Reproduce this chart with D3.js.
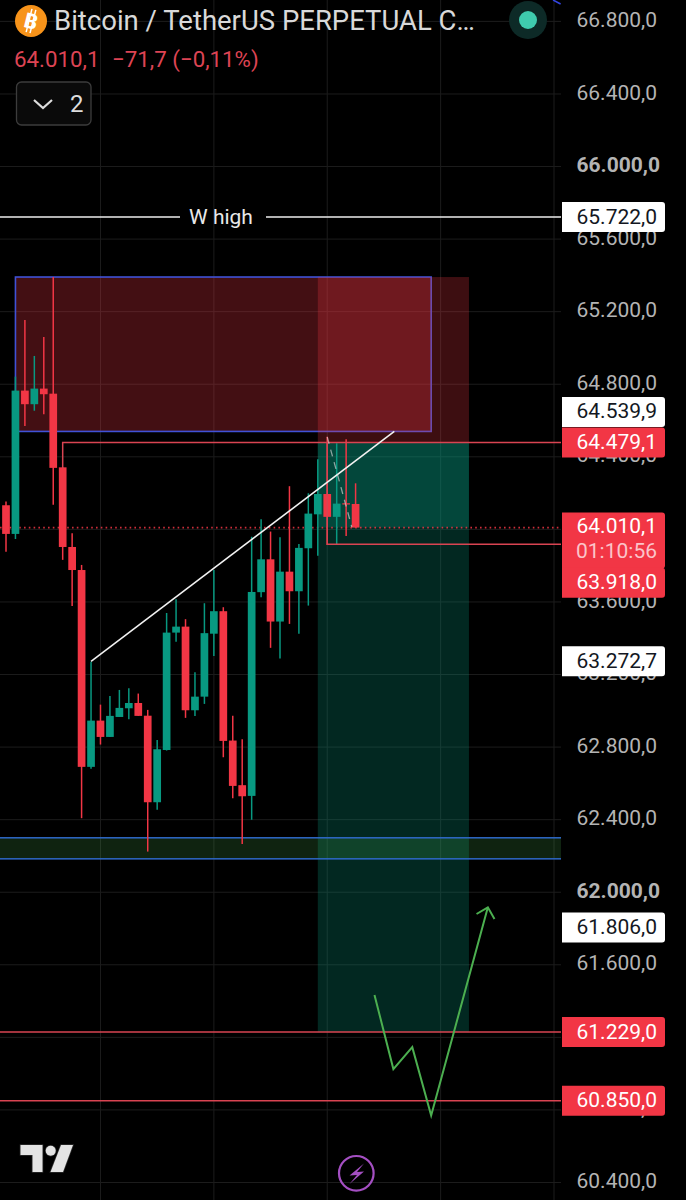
<!DOCTYPE html>
<html>
<head>
<meta charset="utf-8">
<script src="https://cdn.jsdelivr.net/npm/d3@7"></script>
<style>
  html, body { margin: 0; padding: 0; background: #000; }
  svg { display: block; font-family: Roboto, sans-serif; }
</style>
</head>
<body>
<div id="chart"></div>
<script>
// candles, one value per bar
const opens = [64133, 63975, 64765, 64690, 64776, 64748, 64342, 63903, 63776, 62691, 62946, 62856, 62966, 63014, 63043, 62973, 62496, 62784, 63431, 63464, 63003, 63078, 63425, 63549, 62836, 62590, 62531, 63654, 63835, 63492, 63767, 63659, 63896, 64083, 64195, 64069, 64144, 64140];
const highs = [64153, 64842, 65154, 64956, 65061, 65391, 64342, 63979, 63804, 63271, 63034, 63082, 63115, 63124, 63095, 63005, 62839, 63539, 63615, 63505, 63213, 63593, 63776, 63571, 62973, 62843, 63960, 64056, 63988, 63957, 64238, 63920, 64199, 64387, 64511, 64475, 64497, 64254];
const lows = [63877, 63947, 64570, 64654, 64635, 64136, 63832, 63578, 62408, 62680, 62814, 62856, 62966, 62954, 62972, 62224, 62454, 62781, 63381, 62961, 62972, 63038, 63302, 62744, 62518, 62266, 62399, 63626, 63347, 63288, 63479, 63425, 63580, 63854, 63914, 63914, 63964, 64010];
const closes = [63975, 64765, 64690, 64776, 64745, 64339, 63903, 63776, 62691, 62946, 62856, 62972, 63016, 63043, 62972, 62496, 62788, 63431, 63464, 63003, 63078, 63428, 63549, 62834, 62586, 62529, 63655, 63835, 63492, 63767, 63659, 63898, 64087, 64195, 64069, 64142, 64137, 64010.1];

const priceTicks = [66800, 66400, 66000, 65600, 65200, 64800, 64400, 64000, 63600, 63200, 62800, 62400, 62000, 61600, 61200, 60800, 60400];
const boldTicks = [66000, 62000];
const gridBars = [10, 22, 34, 46, 58];

// price tags on the axis
const whiteTags = [65722, 64539.9, 63272.7, 61806];
const redTags = [64479.1, 63918, 61229, 60850];
const lastPrice = 64010.1;

// drawings, in bar index and price
const blueBox = { bars: [1, 45], prices: [65391, 64539.9] };
const positionBars = [33, 49];
const positionPrices = { stop: 65391, entry: 64479.1, target: 61229 };
const zonePrices = [62300, 62184];
const trendLine = [[9, 63272.7], [41.1, 64539.9]];
const dashedLine = [[34, 64509], [36.6, 64013]];
const topLine = [[57.9, 66918], [58.7, 66896]];
const arrowPath = [[39, 61434], [41, 61025], [43, 61146], [45, 60769], [51, 61917]];
const arrowHead = [[49.8, 61880], [51, 61917], [51.7, 61853]];

const width = 686;
const height = 1200;
const plotRight = 561;

const x = d3.scaleLinear().domain([0, 58]).range([6, 554]);
const y = d3.scaleLinear().domain([60400, 66800]).range([1182.5, 21.4]);

const locale = d3.formatLocale({ decimal: ",", thousands: ".", grouping: [3], currency: ["", ""] });
const fmt = locale.format(",.1f");

const RED = "#f23645";
const GREEN = "#089981";

const svg = d3.select("#chart").append("svg")
  .attr("width", width)
  .attr("height", height)
  .style("background", "#000");

svg.append("clipPath").attr("id", "plot")
  .append("rect").attr("width", plotRight).attr("height", height);

// grid
svg.append("g").selectAll("line").data(priceTicks).enter().append("line")
  .attr("x1", 0).attr("x2", plotRight)
  .attr("y1", (d) => y(d)).attr("y2", (d) => y(d))
  .style("stroke", "#1c1c1c");

svg.append("g").selectAll("line").data(gridBars).enter().append("line")
  .attr("x1", (d) => x(d)).attr("x2", (d) => x(d))
  .attr("y1", 0).attr("y2", height)
  .style("stroke", "#1c1c1c");

const plot = svg.append("g").attr("clip-path", "url(#plot)");

// blue box first, the position tool tints its border
plot.append("rect")
  .attr("x", x(blueBox.bars[0]))
  .attr("y", y(blueBox.prices[0]))
  .attr("width", x(blueBox.bars[1]) - x(blueBox.bars[0]))
  .attr("height", y(blueBox.prices[1]) - y(blueBox.prices[0]))
  .style("fill", "rgba(242,54,69,0.28)")
  .style("stroke", "#4052d6")
  .style("stroke-width", 1.6);

const posX = x(positionBars[0]);
const posW = x(positionBars[1]) - x(positionBars[0]);

plot.append("rect")
  .attr("x", posX).attr("width", posW)
  .attr("y", y(positionPrices.stop))
  .attr("height", y(positionPrices.entry) - y(positionPrices.stop))
  .style("fill", "rgba(242,54,69,0.25)");

plot.append("rect")
  .attr("x", posX).attr("width", posW)
  .attr("y", y(positionPrices.entry))
  .attr("height", y(positionPrices.target) - y(positionPrices.entry))
  .style("fill", "rgba(8,153,129,0.26)");

plot.append("rect")
  .attr("x", posX).attr("width", posW)
  .attr("y", y(positionPrices.entry))
  .attr("height", y(lastPrice) - y(positionPrices.entry))
  .style("fill", "rgba(8,153,129,0.28)");

// support zone
plot.append("rect")
  .attr("x", -2).attr("width", plotRight + 4)
  .attr("y", y(zonePrices[0]))
  .attr("height", y(zonePrices[1]) - y(zonePrices[0]))
  .style("fill", "rgba(76,175,80,0.2)")
  .style("stroke", "#2f69c8")
  .style("stroke-width", 1.5);

// last price line
plot.append("line")
  .attr("x1", 0).attr("x2", plotRight)
  .attr("y1", y(lastPrice)).attr("y2", y(lastPrice))
  .style("stroke", RED)
  .style("stroke-opacity", 0.85)
  .style("stroke-width", 1.7)
  .style("stroke-dasharray", "1.6 3.2");

// candles
const bars = d3.range(opens.length);

plot.append("g").selectAll("line").data(bars).enter().append("line")
  .attr("x1", (i) => x(i)).attr("x2", (i) => x(i))
  .attr("y1", (i) => y(highs[i])).attr("y2", (i) => y(lows[i]))
  .style("stroke", (i) => (closes[i] >= opens[i] ? GREEN : RED))
  .style("stroke-width", 1.5);

plot.append("g").selectAll("rect").data(bars).enter().append("rect")
  .attr("x", (i) => x(i) - 3.85)
  .attr("width", 7.7)
  .attr("y", (i) => y(Math.max(opens[i], closes[i])))
  .attr("height", (i) => Math.max(1, Math.abs(y(opens[i]) - y(closes[i]))))
  .style("fill", (i) => (closes[i] >= opens[i] ? GREEN : RED));

const line = d3.line().x((d) => x(d[0])).y((d) => y(d[1]));

// red levels
const redLevel = "#d94452";
plot.append("path")
  .attr("d", line([[6, 64339], [6, positionPrices.entry], [60, positionPrices.entry]]))
  .style("fill", "none").style("stroke", redLevel).style("stroke-width", 1.5);
plot.append("path")
  .attr("d", line([[34, positionPrices.entry], [34, 63918], [60, 63918]]))
  .style("fill", "none").style("stroke", redLevel).style("stroke-width", 1.5);
plot.selectAll(".level").data([61229, 60850]).enter().append("line")
  .attr("class", "level")
  .attr("x1", 0).attr("x2", plotRight)
  .attr("y1", (d) => y(d)).attr("y2", (d) => y(d))
  .style("stroke", redLevel).style("stroke-width", 1.5);

// trend line and the rest of the drawings
plot.append("path").attr("d", line(trendLine))
  .style("fill", "none").style("stroke", "#f2f2f2").style("stroke-width", 1.6);
plot.append("path").attr("d", line(dashedLine))
  .style("fill", "none").style("stroke", "rgba(215,215,215,0.65)")
  .style("stroke-width", 1.3).style("stroke-dasharray", "7 6");
plot.append("path").attr("d", line(topLine))
  .style("fill", "none").style("stroke", "#3345e0").style("stroke-width", 1.5);
plot.append("path").attr("d", line(arrowPath))
  .style("fill", "none").style("stroke", "#4caf50").style("stroke-width", 2);
plot.append("path").attr("d", line(arrowHead))
  .style("fill", "none").style("stroke", "#4caf50").style("stroke-width", 2);

// W high
const wHigh = whiteTags[0];
const wLabelX = 221;
plot.append("line").attr("x1", 0).attr("x2", wLabelX - 41)
  .attr("y1", y(wHigh)).attr("y2", y(wHigh))
  .style("stroke", "#eee").style("stroke-width", 1.5);
plot.append("line").attr("x1", wLabelX + 45).attr("x2", plotRight)
  .attr("y1", y(wHigh)).attr("y2", y(wHigh))
  .style("stroke", "#eee").style("stroke-width", 1.5);
svg.append("text")
  .attr("x", wLabelX).attr("y", y(wHigh)).attr("dy", ".35em")
  .attr("text-anchor", "middle")
  .style("font-size", "21px").style("fill", "#e8e8e8")
  .text("W high");

// price axis, the labels sit a little above their grid lines
const axis = svg.append("g")
  .attr("transform", "translate(657,-2.5)")
  .call(d3.axisRight(y).tickValues(priceTicks).tickFormat(fmt).tickSize(0).tickPadding(0));
axis.select(".domain").remove();
axis.selectAll("text")
  .attr("text-anchor", "end")
  .attr("dy", ".36em")
  .attr("x", (d) => (boldTicks.includes(d) ? 3 : 0))
  .style("font-family", "Roboto, sans-serif")
  .style("font-size", "21px")
  .style("fill", "#b4b4b4")
  .style("font-weight", (d) => (boldTicks.includes(d) ? "bold" : "normal"));

// tags, flat on the left and rounded on the right
const tagPath = (top, h) =>
  `M562,${top}H662a3,3 0 0 1 3,3V${top + h - 3}a3,3 0 0 1 -3,3H562Z`;

// overlapping tags get pushed apart on the axis
const tagShift = { 64539.9: -19.5, 63918: 38.5 };

const tags = svg.append("g");

whiteTags.forEach((d) => {
  const cy = y(d) + (tagShift[d] || 0);
  tags.append("path").attr("d", tagPath(cy - 15, 30)).style("fill", "#fff");
  tags.append("text")
    .attr("x", 657).attr("y", cy - 1).attr("dy", ".36em")
    .attr("text-anchor", "end")
    .style("font-size", "21px").style("fill", "#131722")
    .text(fmt(d));
});

// last price tag with countdown
const lastY = y(lastPrice);
tags.append("path").attr("d", tagPath(lastY - 15, 56)).style("fill", RED);
tags.append("text")
  .attr("x", 657).attr("y", lastY - 2).attr("dy", ".36em")
  .attr("text-anchor", "end")
  .style("font-size", "21px").style("fill", "#fff")
  .text(fmt(lastPrice));
tags.append("text")
  .attr("x", 657).attr("y", lastY + 23).attr("dy", ".36em")
  .attr("text-anchor", "end")
  .style("font-size", "21px").style("fill", "#fbc4c9")
  .text("01:10:56");

redTags.forEach((d) => {
  const cy = y(d) + (tagShift[d] || 0);
  tags.append("path").attr("d", tagPath(cy - 15, 30)).style("fill", RED);
  tags.append("text")
    .attr("x", 657).attr("y", cy - 1).attr("dy", ".36em")
    .attr("text-anchor", "end")
    .style("font-size", "21px").style("fill", "#fff")
    .text(fmt(d));
});

// header
const header = svg.append("g");
header.append("circle").attr("cx", 31).attr("cy", 21).attr("r", 16).style("fill", "#f7931a");
header.append("g").attr("transform", "translate(31,21) rotate(14)")
  .call((g) => {
    g.append("text").attr("text-anchor", "middle").attr("dy", ".36em")
      .style("font-size", "21px").style("font-weight", "bold").style("fill", "#fff")
      .text("B");
    g.selectAll("line").data([-2, 2]).enter().append("line")
      .attr("x1", (d) => d).attr("x2", (d) => d)
      .attr("y1", -12).attr("y2", 12)
      .style("stroke", "#fff").style("stroke-width", 1.5);
  });
header.append("text")
  .attr("x", 54).attr("y", 30)
  .style("font-size", "27.5px").style("fill", "#d9d9d9")
  .text("Bitcoin / TetherUS PERPETUAL C…");
header.append("text")
  .attr("x", 14).attr("y", 67)
  .style("font-size", "22.3px").style("fill", "#dd4454")
  .text(fmt(lastPrice));
header.append("text")
  .attr("x", 112).attr("y", 67)
  .style("font-size", "22.3px").style("fill", "#dd4454")
  .text("−71,7 (−0,11%)");

header.append("rect")
  .attr("x", 16.5).attr("y", 82).attr("width", 74.5).attr("height", 43).attr("rx", 5)
  .style("fill", "#0a0a0a").style("stroke", "#3c3c3c").style("stroke-width", 1.3);
header.append("path").attr("d", "M34,100L43,108L52,100")
  .style("fill", "none").style("stroke", "#ddd").style("stroke-width", 2.2);
header.append("text")
  .attr("x", 70).attr("y", 112)
  .style("font-size", "24px").style("fill", "#ddd")
  .text("2");

// market status dot
header.append("circle").attr("cx", 528).attr("cy", 20).attr("r", 19).style("fill", "#0d2a27");
header.append("circle").attr("cx", 528).attr("cy", 20).attr("r", 9).style("fill", "#3fcbae");

// tradingview logo
const logo = svg.append("g")
  .style("fill", "#e4e4e4").style("stroke", "#2e2e2e").style("stroke-width", 1.5)
  .style("paint-order", "stroke");
logo.append("path").attr("d", "M20.5,1145H42.5V1172H32.5V1155H20.5Z");
logo.append("circle").attr("cx", 50.7).attr("cy", 1150.7).attr("r", 5);
logo.append("path").attr("d", "M61,1145H73L63,1172H50.5Z");

// lightning button
svg.append("circle").attr("cx", 356.3).attr("cy", 1173.3).attr("r", 17.3)
  .style("fill", "none").style("stroke", "#a44fc2").style("stroke-width", 2.2);
svg.append("path").attr("d", "M364,1163.5L349.5,1175.5L357,1175L349.5,1184L364,1171.5L357,1172Z")
  .style("fill", "#a44fc2");
</script>
</body>
</html>
